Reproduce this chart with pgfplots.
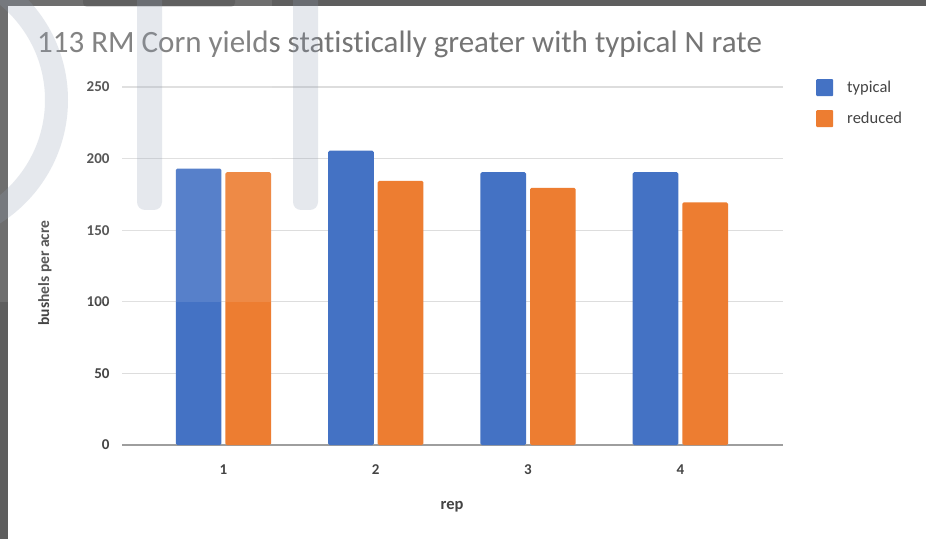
\documentclass[border=0pt]{standalone}
\usepackage{fontspec}
\setmainfont{Carlito}[Ligatures=NoCommon]
\usepackage{pgfplots}
\pgfplotsset{compat=1.18}

\definecolor{typical}{HTML}{4472C4}
\definecolor{reduced}{HTML}{ED7D31}
\definecolor{gridgray}{HTML}{DDDDDD}
\definecolor{zerogray}{HTML}{9E9E9E}
\definecolor{labelgray}{HTML}{444444}
\definecolor{titlegray}{HTML}{757575}
\definecolor{framegray}{HTML}{5E5E5E}
\definecolor{markgray}{RGB}{145,158,180}

% values (bushels per acre)
\pgfplotstableread{
rep typical reduced
1   193     190.5
2   205.5   184.5
3   190.5   179.5
4   190.5   169.5
}\yields

\begin{document}
\begin{tikzpicture}
% pixel grid of the screenshot: x right, y up, 1px = 1pt
\useasboundingbox (0pt,0pt) rectangle (926pt,539pt);
\fill[white] (0pt,0pt) rectangle (926pt,539pt);

\begin{axis}[
    at={(122pt,94pt)}, anchor=south west,
    scale only axis,
    width=661pt, height=358pt,
    xmin=0.334, xmax=4.674,
    ymin=0, ymax=250,
    xtick={1,2,3,4},
    ytick={0,50,...,250},
    major tick length=0pt,
    axis line style={draw=none},
    ymajorgrids,
    grid style={gridgray, line width=1.2pt},
    extra y ticks={0},
    extra y tick labels={},
    extra y tick style={grid style={zerogray, line width=2pt}},
    /pgf/number format/assume math mode=true,
    ticklabel style={font=\fontsize{15}{17}\selectfont\bfseries, text=labelgray},
    yticklabel style={xshift=-9pt},
    xticklabel style={yshift=-16pt},
    legend style={at={(1,1)}, anchor=north west, xshift=33pt, yshift=8pt,
        draw=none, fill=none, font=\fontsize{16.5}{18}\selectfont, text=labelgray,
        row sep=14pt, inner sep=0pt,
        nodes={inner xsep=14pt}},
    legend cell align=left,
    legend image code/.code={\fill[#1, rounded corners=1pt] (0pt,-8.5pt) rectangle (17pt,8.5pt);},
]
\addplot[ybar, bar width=0.30, bar shift=-0.163, fill=typical, draw=none, rounded corners=1.5pt]
    table[x=rep, y=typical] {\yields};
\addlegendentry{typical}
\addplot[ybar, bar width=0.30, bar shift=0.163, fill=reduced, draw=none, rounded corners=1.5pt]
    table[x=rep, y=reduced] {\yields};
\addlegendentry{reduced}
\end{axis}

\node[anchor=base west, text=titlegray, font=\fontsize{31}{33}\selectfont, inner sep=0pt]
    at (37pt,486pt) {113 RM Corn yields statistically greater with typical N rate};
\node[rotate=90, text=labelgray, font=\fontsize{15.5}{17}\selectfont\bfseries]
    at (45pt,266pt) {bushels per acre};
\node[text=labelgray, font=\fontsize{16.5}{18}\selectfont\bfseries]
    at (452pt,32pt) {rep};

% screenshot frame and watermark
\fill[framegray] (0pt,533pt) rectangle (926pt,539pt);
\fill[framegray] (0pt,0pt) rectangle (8pt,539pt);
\fill[black, opacity=0.15, rounded corners=4pt] (83pt,532pt) rectangle (235pt,545pt);
\fill[white, opacity=0.1] (0pt,237pt) rectangle (272pt,539pt);
\begin{scope}
\clip (0pt,0pt) rectangle (926pt,539pt);
\fill[markgray, opacity=0.23, even odd rule]
    (-78pt,439pt) circle[radius=146pt] (-78pt,439pt) circle[radius=123pt];
\fill[markgray, opacity=0.23, rounded corners=8pt]
    (137pt,329pt) rectangle (162pt,560pt);
\fill[markgray, opacity=0.23, rounded corners=8pt]
    (293pt,329pt) rectangle (318pt,560pt);
\end{scope}
\end{tikzpicture}
\end{document}
